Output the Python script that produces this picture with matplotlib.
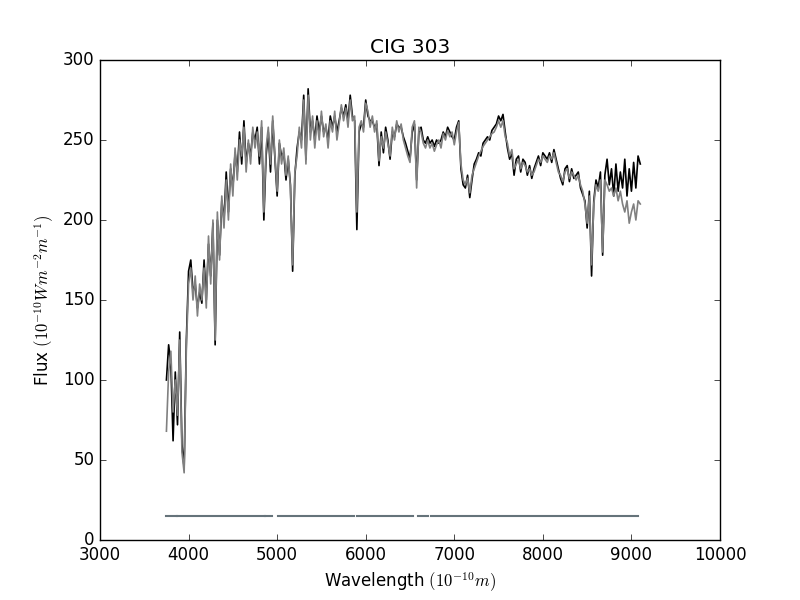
import numpy as np
import matplotlib
matplotlib.use("Agg")
import matplotlib.pyplot as plt

plt.style.use("classic")
plt.rcParams["mathtext.fontset"] = "cm"
plt.rcParams["font.family"] = ["DejaVu Sans"]

# Spectrum sampling
WAVE_START = 3750
WAVE_STEP = 25

# Observed flux (black), 3750..9100 step 25
observed_flux = [
    100, 122, 110, 62, 105, 72, 130, 60, 45, 125,
    168, 175, 155, 160, 145, 155, 148, 175, 150, 185,
    165, 198, 122, 200, 178, 212, 200, 230, 205, 232,
    220, 242, 230, 255, 235, 262, 235, 248, 240, 255,
    250, 258, 235, 258, 200, 240, 255, 230, 262, 238,
    215, 248, 240, 242, 225, 238, 222, 168, 228, 245,
    255, 250, 278, 238, 282, 255, 262, 250, 265, 255,
    265, 255, 258, 250, 265, 258, 265, 255, 262, 270,
    265, 272, 262, 278, 265, 262, 194, 255, 260, 258,
    275, 265, 262, 262, 258, 260, 234, 255, 242, 258,
    250, 238, 255, 252, 260, 258, 258, 252, 248, 243,
    238, 255, 260, 225, 255, 258, 250, 248, 252, 248,
    250, 246, 250, 248, 250, 255, 252, 258, 255, 252,
    250, 258, 262, 232, 222, 220, 228, 214, 225, 235,
    238, 242, 240, 248, 250, 252, 250, 256, 258, 260,
    265, 262, 266, 255, 245, 238, 242, 228, 238, 240,
    230, 238, 236, 228, 234, 226, 232, 236, 240, 234,
    242, 240, 238, 242, 236, 244, 238, 232, 226, 222,
    232, 234, 224, 232, 226, 228, 230, 220, 216, 212,
    195, 218, 165, 212, 225, 220, 230, 178, 228, 238,
    222, 232, 215, 235, 218, 230, 220, 238, 215, 232,
    218, 236, 220, 240, 235,
]

# Model flux (grey), same sampling
model_flux = [
    68, 105, 118, 80, 100, 78, 125, 55, 42, 120,
    160, 170, 150, 165, 140, 160, 150, 170, 145, 190,
    160, 200, 125, 205, 175, 215, 195, 225, 200, 235,
    215, 245, 225, 250, 240, 258, 230, 250, 235, 258,
    245, 255, 240, 262, 205, 245, 258, 235, 265, 240,
    218, 250, 235, 245, 228, 240, 220, 172, 230, 240,
    258, 245, 275, 235, 278, 250, 265, 245, 262, 250,
    268, 252, 260, 245, 262, 255, 268, 250, 260, 272,
    262, 270, 258, 275, 262, 265, 205, 258, 262, 255,
    273, 268, 258, 265, 255, 262, 237, 252, 245, 255,
    248, 240, 258, 250, 262, 255, 260, 250, 245, 240,
    236, 258, 262, 220, 258, 255, 248, 245, 250, 245,
    248, 243, 247, 250, 245, 254, 250, 256, 252, 255,
    247, 255, 261, 235, 225, 222, 226, 217, 228, 232,
    236, 240, 243, 246, 248, 250, 252, 254, 255, 258,
    262, 258, 262, 252, 248, 240, 244, 232, 235, 238,
    232, 236, 234, 230, 232, 228, 230, 234, 238, 236,
    240, 238, 236, 240, 238, 242, 236, 230, 228, 224,
    230, 232, 226, 230, 228, 225, 228, 222, 218, 210,
    198, 215, 172, 210, 222, 218, 225, 180, 225, 222,
    218, 220, 215, 220, 212, 218, 210, 205, 212, 198,
    205, 210, 200, 212, 210,
]

# Masked-region segments (start, end) in Angstrom, drawn at a constant level
mask_segments = [
    (3745, 3866), (3866, 4863), (4863, 4940), (5010, 5868),
    (5905, 6281), (6311, 6530), (6594, 6698), (6736, 8983), (9002, 9070),
]
mask_level = 15

wave = WAVE_START + WAVE_STEP * np.arange(len(model_flux))

fig = plt.figure(figsize=(8, 6), dpi=100, facecolor="white")
ax = fig.add_subplot(111)
ax.plot(wave, observed_flux, color="black", lw=1.2)
ax.plot(wave, model_flux, color="0.5", lw=1.2)
for a, b in mask_segments:
    ax.plot([a, b], [mask_level, mask_level], color="#65737a", lw=1.5)

ax.set_xlim(3000, 10000)
ax.set_ylim(0, 300)
ax.set_title("CIG 303")
ax.set_xlabel(r"Wavelength $(10^{-10}m)$")
ax.set_ylabel(r"Flux $(10^{-10} Wm^{-2}m^{-1})$")
fig.savefig("out.png", dpi=100, facecolor="white")
